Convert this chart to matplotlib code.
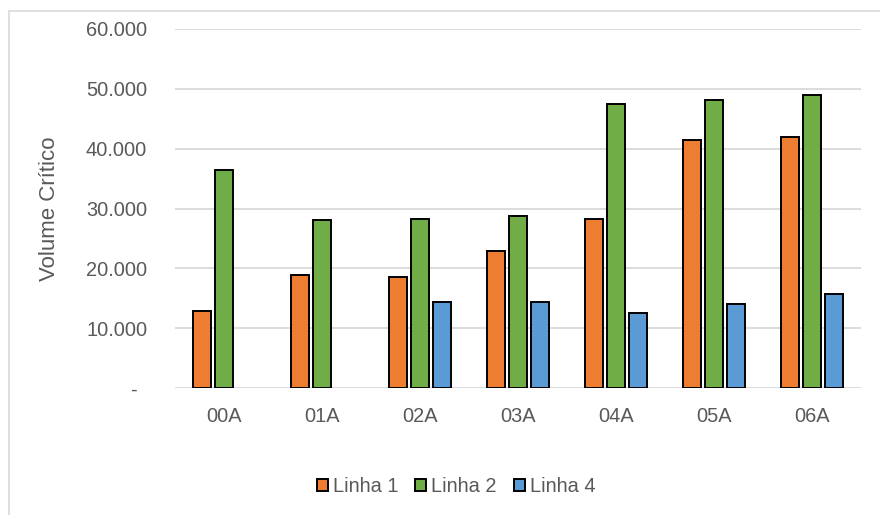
import numpy as np
import matplotlib.pyplot as plt
from matplotlib import font_manager
from matplotlib.patches import Rectangle
from matplotlib.transforms import ScaledTranslation

# dados
categorias = ['00A', '01A', '02A', '03A', '04A', '05A', '06A']
linha1 = [12900, 18900, 18600, 22900, 28200, 41400, 42000]
linha2 = [36500, 28000, 28300, 28800, 47500, 48100, 48900]
linha4 = [np.nan, np.nan, 14300, 14300, 12600, 14050, 15700]
series = ['Linha 1', 'Linha 2', 'Linha 4']
cores = ['#ED7D31', '#70AD47', '#5B9BD5']
yticks = [0, 10000, 20000, 30000, 40000, 50000, 60000]

# fonte estreita tipo Arial Narrow, se existir
nomes = {f.name for f in font_manager.fontManager.ttflist}
if 'Liberation Sans Narrow' in nomes:
    fonte, esc = 'Liberation Sans Narrow', 1.0
else:
    fonte, esc = 'Liberation Sans', 0.85
plt.rcParams['font.family'] = [fonte, 'DejaVu Sans']
cinza = '#595959'
fs = 17 * esc

fig = plt.figure(figsize=(8.8, 5.15), dpi=100)
ax = fig.add_axes([175 / 880, 1 - 388 / 515, 686 / 880, 359 / 515])

x = np.arange(len(categorias))
w = 0.175
passo = 0.225
for i, (vals, nome, cor) in enumerate(zip([linha1, linha2, linha4], series, cores)):
    ax.bar(x + (i - 1) * passo, vals, w, color=cor, edgecolor='black',
           linewidth=1.4, label=nome, zorder=3)

ax.set_xlim(-0.5, len(categorias) - 0.5)
ax.set_ylim(0, 60000)
ax.set_yticks(yticks)
ax.set_yticklabels(['-'] + ['{:,.0f}'.format(v).replace(',', '.') for v in yticks[1:]])
ax.set_xticks(x)
ax.set_xticklabels(categorias)
ax.tick_params(axis='both', length=0, labelsize=fs, labelcolor=cinza)
ax.tick_params(axis='y', pad=20)
ax.tick_params(axis='x', pad=14)
# o "-" do zero fica um pouco mais à esquerda
lab0 = ax.get_yticklabels()[0]
lab0.set_transform(lab0.get_transform() + ScaledTranslation(-10 / 100, 0, fig.dpi_scale_trans))

ax.grid(axis='y', color='#D9D9D9', linewidth=1.3, zorder=0)
for s in ax.spines.values():
    s.set_visible(False)

ax.set_ylabel('Volume Crítico', fontsize=19.5 * 0.82, color=cinza)
ax.yaxis.set_label_coords(-0.168, 0.5)

leg = fig.legend(loc='center', bbox_to_anchor=(456 / 880, 1 - 487 / 515), ncol=3,
                 frameon=False, fontsize=fs, handlelength=0.55, handleheight=0.55,
                 handletextpad=0.25, columnspacing=0.85)
for t in leg.get_texts():
    t.set_color(cinza)

# borda da área do gráfico
fig.patches.append(Rectangle((9 / 880, -0.1), 2, 1 - 11 / 515 + 0.1, transform=fig.transFigure,
                             fill=False, edgecolor='#D9D9D9', linewidth=1.2))

plt.savefig('out.png', dpi=100)
